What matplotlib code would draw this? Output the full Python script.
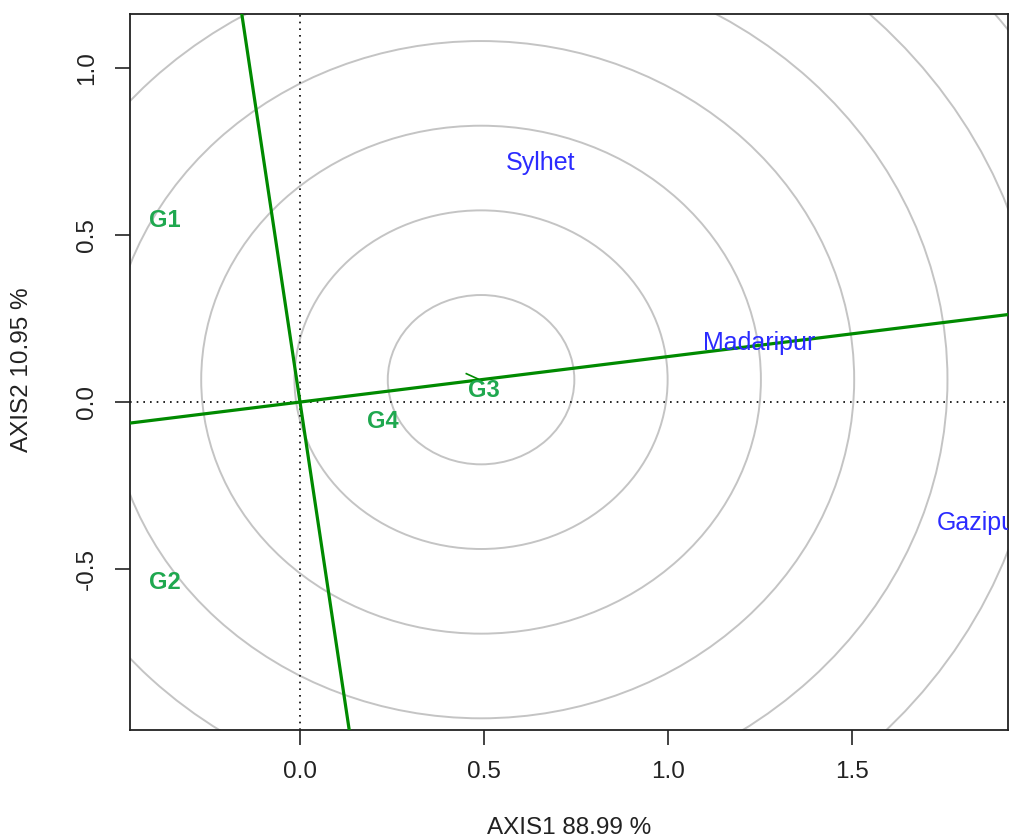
import numpy as np
import matplotlib
matplotlib.use("Agg")
import matplotlib.pyplot as plt
from matplotlib.patches import Ellipse

plt.rcParams['font.family'] = ['Liberation Sans', 'DejaVu Sans']
plt.rcParams['axes.unicode_minus'] = False

# Data
genotypes = ["G1", "G2", "G3", "G4"]
gen_x = [-0.367, -0.367, 0.50, 0.226]
gen_y = [0.545, -0.539, 0.036, -0.057]
environments = ["Sylhet", "Madaripur", "Gazipur"]
env_x = [0.655, 1.247, 1.848]
env_y = [0.716, 0.177, -0.362]
ideal = (0.492, 0.067)        # centre of the concentric circles (ideal genotype)
ring_step = 0.2535            # radius step of the circles
n_rings = 9
xticks = [0.0, 0.5, 1.0, 1.5]
yticks = [-0.5, 0.0, 0.5, 1.0]
xlim = (-0.462, 1.924)
ylim = (-0.982, 1.162)
xlabel = "AXIS1 88.99 %"
ylabel = "AXIS2 10.95 %"

fig = plt.figure(figsize=(10.13, 8.38), dpi=100)
ax = fig.add_axes([130/1013, 1-730/838, (1008-130)/1013, (730-14)/838])
ax.set_xlim(*xlim)
ax.set_ylim(*ylim)

# concentric circles
for k in range(1, n_rings + 1):
    r = ring_step * k
    ax.add_patch(Ellipse(ideal, 2*r, 2*r, fill=False, edgecolor='#c4c4c4', lw=1.4, zorder=1))

# reference dotted lines
ax.axhline(0, color='black', ls=(0, (1, 3)), lw=1.2, zorder=2)
ax.axvline(0, color='black', ls=(0, (1, 3)), lw=1.2, zorder=2)

# ATC axis and its perpendicular through origin
slope = ideal[1] / ideal[0]
xs = np.array([xlim[0] - 1, xlim[1] + 1])
ax.plot(xs, slope * xs, color='#008a00', lw=2.3, zorder=3)
ys = np.array([ylim[0] - 1, ylim[1] + 1])
ax.plot(-slope * ys, ys, color='#008a00', lw=2.3, zorder=3)
# small arrowhead at the ideal point
ax.plot([ideal[0] - 0.04, ideal[0] - 0.008], [ideal[1] + 0.018, ideal[1] + 0.002],
        color='#008a00', lw=1.2, zorder=3)

gen_color = '#1fa84f'
env_color = '#2b2bff'
for name, x, y in zip(genotypes, gen_x, gen_y):
    ax.text(x, y, name, color=gen_color, fontsize=17, fontweight='bold',
            ha='center', va='center', zorder=4, clip_on=True)
for name, x, y in zip(environments, env_x, env_y):
    ax.text(x, y, name, color=env_color, fontsize=18,
            ha='center', va='center', zorder=4, clip_on=True)

ax.set_xticks(xticks)
ax.set_yticks(yticks)
ax.set_xticklabels([f"{v:.1f}" for v in xticks])
ax.set_yticklabels([f"{v:.1f}" for v in yticks], rotation=90, va='center')
ax.tick_params(axis='both', length=11, width=1.2, labelsize=17.5, direction='out',
               color='#222222', labelcolor='#222222')
ax.tick_params(axis='x', pad=11)
ax.tick_params(axis='y', pad=12)
for s in ax.spines.values():
    s.set_linewidth(1.3)
    s.set_color('#222222')

fig.text(569/1013, 1-828/838, xlabel, fontsize=17.5, ha='center', va='center', color='#222222')
fig.text(22/1013, 1-370/838, ylabel, fontsize=17.5, ha='center', va='center', rotation=90, color='#222222')

fig.savefig("out.png", dpi=100)
